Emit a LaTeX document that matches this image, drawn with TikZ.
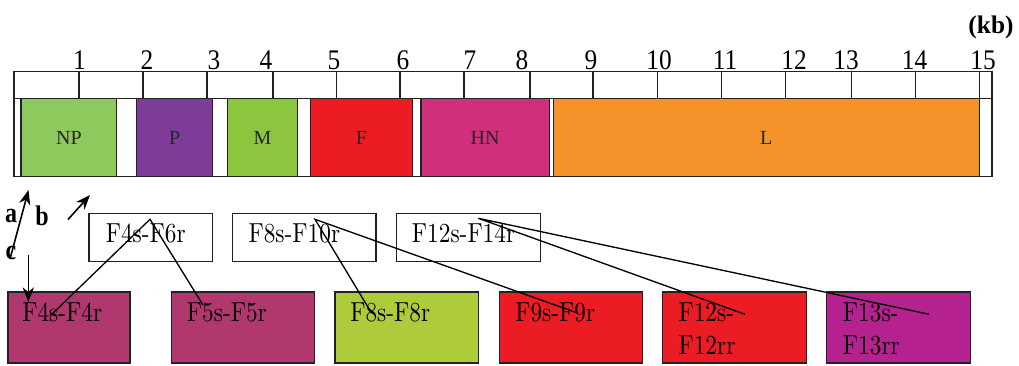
\documentclass[tikz,border=0pt]{standalone}
\usepackage{fontspec}
\usetikzlibrary{arrows.meta,calc}
\newfontfamily\lsf{Liberation Serif}
\newfontfamily\cmten{lmroman10-regular}[Extension=.otf]
\newcommand\tallt[1]{\scalebox{1}[1.18]{#1}}
\newcommand\talld[1]{\scalebox{1}[1.12]{#1}}
\definecolor{cNP}{HTML}{8DC95C}
\definecolor{cP}{HTML}{7D3C98}
\definecolor{cM}{HTML}{8CC63F}
\definecolor{cF}{HTML}{EC1C24}
\definecolor{cHN}{HTML}{D12E7B}
\definecolor{cL}{HTML}{F5922A}
\definecolor{cRasp}{HTML}{B0386E}
\definecolor{cLime}{HTML}{ADCB3B}
\definecolor{cMag}{HTML}{B5218E}
\definecolor{edge}{HTML}{222222}
\begin{document}
\begin{tikzpicture}[x=0.75pt,y=-0.75pt,
  frame/.style={draw=edge, line width=1.1pt},
  gene/.style={frame, inner sep=0pt, outer sep=0pt, anchor=north west,
    minimum height=58.8pt, font=\lsf\fontsize{15}{17}\selectfont, text=black!85},
  pcrbox/.style={frame, inner sep=0pt, outer sep=0pt, anchor=north west},
  midbox/.style={pcrbox, fill=white, minimum height=36.2pt},
  lowbox/.style={pcrbox, minimum height=53.25pt},
  boxtxt/.style={inner sep=0pt, anchor=base west, font=\cmten\fontsize{17.5}{21}\selectfont},
  digit/.style={inner sep=0pt, anchor=base, font=\lsf\fontsize{19}{21}\selectfont},
  conn/.style={line width=1pt, draw=black},
  arr/.style={line width=1.2pt, -{Stealth[length=11pt,width=8.5pt]}},
  letter/.style={inner sep=0pt, font=\lsf\bfseries\fontsize{18}{20}\selectfont}
]
\useasboundingbox (0,0) rectangle (1019,365);

% ruler
\draw[frame] (14,71.7) rectangle (992,176.7);
\draw[frame] (14,98.3) -- (992,98.3);
\foreach \x in {79,143,207,273,336.5,400,464,530,593,657.5,721.7,785.7,851.7,915.7}
  \draw[frame] (\x,71.7) -- (\x,98.3);
\draw[frame] (979.3,71.7) -- (979.3,176.7);

% scale labels
\foreach \n/\x in {1/79.5,2/147,3/214,4/266,5/334,6/403,7/470,8/522,9/591,10/659,11/725,12/794,13/846,14/914.5,15/983}
  \node[digit] (t\n) at (\x,69) {\talld{\n}};
\node[inner sep=0pt, font=\lsf\bfseries\fontsize{19}{21}\selectfont] (kb) at (991,27) {(kb)};

% genes
\node[gene, fill=cNP, minimum width=71.8pt] (np) at (21,98.3) {NP};
\node[gene, fill=cP, minimum width=57pt] (p) at (136.7,98.3) {P};
\node[gene, fill=cM, minimum width=52.8pt] (m) at (227.3,98.3) {M};
\node[gene, fill=cF, minimum width=76.2pt] (f) at (310.7,98.3) {F};
\node[gene, fill=cHN, minimum width=96.2pt] (hn) at (421,98.3) {HN};
\node[gene, fill=cL, minimum width=319.5pt] (l) at (553.3,98.3) {L};

% middle boxes
\node[midbox, minimum width=92.8pt] (m1) at (89,213.3) {};
\node[midbox, minimum width=107.5pt] (m2) at (232.7,213.3) {};
\node[midbox, minimum width=108pt] (m3) at (396.7,213.3) {};
\node[boxtxt] (m1t) at ($(m1.north west)+(16.5,29.4)$) {\tallt{F4s-F6r}};
\node[boxtxt] (m2t) at ($(m2.north west)+(15.6,29.4)$) {\tallt{F8s-F10r}};
\node[boxtxt] (m3t) at ($(m3.north west)+(15,29.4)$) {\tallt{F12s-F14r}};

% lower boxes
\node[lowbox, fill=cRasp, minimum width=91.5pt] (b1) at (8,292) {};
\node[lowbox, fill=cRasp, minimum width=107pt] (b2) at (171.7,292) {};
\node[lowbox, fill=cLime, minimum width=107.5pt] (b3) at (335,292) {};
\node[lowbox, fill=cF, minimum width=107.5pt] (b4) at (499.3,292) {};
\node[lowbox, fill=cF, minimum width=108pt] (b5) at (662.7,292) {};
\node[lowbox, fill=cMag, minimum width=108pt] (b6) at (826.7,292) {};
\node[boxtxt] (b1t) at ($(b1.north west)+(14,29.5)$) {\tallt{F4s-F4r}};
\node[boxtxt] (b2t) at ($(b2.north west)+(15,29.5)$) {\tallt{F5s-F5r}};
\node[boxtxt] (b3t) at ($(b3.north west)+(15,29.5)$) {\tallt{F8s-F8r}};
\node[boxtxt] (b4t) at ($(b4.north west)+(15.7,29.5)$) {\tallt{F9s-F9r}};
\node[boxtxt] (b5t) at ($(b5.north west)+(15.6,29.5)$) {\tallt{F12s-}};
\node[boxtxt] (b5u) at ($(b5.north west)+(15.6,62)$) {\tallt{F12rr}};
\node[boxtxt] (b6t) at ($(b6.north west)+(16,29.5)$) {\tallt{F13s-}};
\node[boxtxt] (b6u) at ($(b6.north west)+(16,62)$) {\tallt{F13rr}};

% connector points
\coordinate (m1a) at ($(m1.north west)+(61,6)$);
\coordinate (m2a) at ($(m2.north west)+(82.3,6)$);
\coordinate (m3a) at ($(m3.north west)+(81.6,5)$);
\coordinate (e1) at ($(b1.north west)+(42,24)$);
\coordinate (e2) at ($(b2.north west)+(31.3,13)$);
\coordinate (e3) at ($(b3.north west)+(36.7,21.3)$);
\coordinate (e4) at ($(b4.north west)+(79,21.3)$);
\coordinate (e5) at ($(b5.north west)+(82.3,22.3)$);
\coordinate (e6) at ($(b6.north west)+(102.6,22.3)$);
\draw[conn] (e1) -- (m1a) -- (e2);
\draw[conn] (e3) -- (m2a) -- (e4);
\draw[conn] (e5) -- (m3a) -- (e6);

% a b c arrows
\node[letter] (la) at (11,216) {\tallt{a}};
\node[letter] (lb) at (42,216) {\tallt{b}};
\node[letter] (lc) at (11,253) {\tallt{c}};
\coordinate (a0) at (10,259);
\coordinate (a1) at (28.5,190);
\coordinate (bb0) at (68,219.5);
\coordinate (bb1) at (90,195);
\coordinate (c0) at (28.3,255);
\coordinate (c1) at (28.3,302);
\draw[arr] (a0) -- (a1);
\draw[arr] (bb0) -- (bb1);
\draw[arr] (c0) -- (c1);
\end{tikzpicture}
\end{document}
